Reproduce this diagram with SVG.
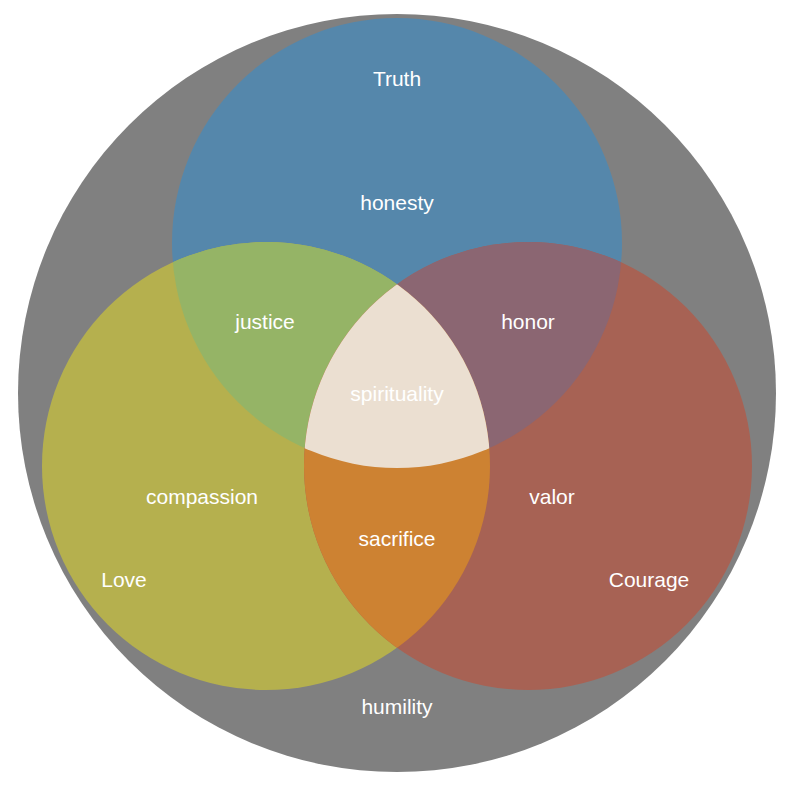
<svg xmlns="http://www.w3.org/2000/svg" width="794" height="786" viewBox="0 0 794 786">
<style>
text{font-family:"Liberation Sans",Arial,sans-serif;font-size:21px;fill:#fff;text-anchor:middle}
</style>
<defs>
<clipPath id="cY"><circle cx="266" cy="466" r="224"/></clipPath>
<clipPath id="cR"><circle cx="528" cy="466" r="224"/></clipPath>
</defs>
<rect width="794" height="786" fill="#fff"/>
<circle id="outer" cx="397" cy="393" r="379" fill="#808080"/>
<g id="truth"><circle cx="397" cy="243" r="225" fill="#5587AB"/></g>
<g id="love"><circle cx="266" cy="466" r="224" fill="#B5B04E"/></g>
<g id="courage"><circle cx="528" cy="466" r="224" fill="#A76254"/></g>
<g id="justice" clip-path="url(#cY)"><circle cx="397" cy="243" r="225" fill="#95B466"/></g>
<g id="honor" clip-path="url(#cR)"><circle cx="397" cy="243" r="225" fill="#8B6672"/></g>
<g id="sacrifice" clip-path="url(#cR)"><circle cx="266" cy="466" r="224" fill="#CD8232"/></g>
<g id="spirituality" clip-path="url(#cY)"><g clip-path="url(#cR)"><circle cx="397" cy="243" r="225" fill="#EBDFD1"/></g></g>
<text x="397" y="86">Truth</text>
<text x="397" y="210">honesty</text>
<text x="265" y="329">justice</text>
<text x="528" y="329">honor</text>
<text x="397" y="401">spirituality</text>
<text x="202" y="504">compassion</text>
<text x="552" y="504">valor</text>
<text x="397" y="546">sacrifice</text>
<text x="124" y="587">Love</text>
<text x="649" y="587">Courage</text>
<text x="397" y="714">humility</text>
</svg>
